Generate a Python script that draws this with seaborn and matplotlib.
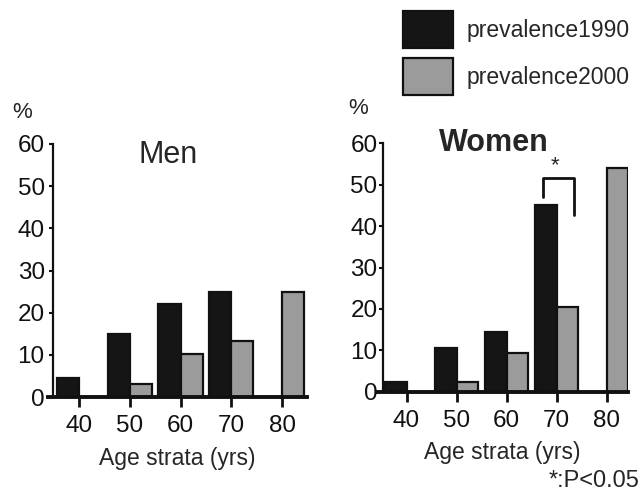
import numpy as np
import pandas as pd
import matplotlib
matplotlib.use('Agg')
import matplotlib.pyplot as plt
import seaborn as sns

ages = ['40', '50', '60', '70', '80']
men_1990 = [4.4, 15, 22, 25, 0]
men_2000 = [0, 3, 10.2, 13.3, 25]
women_1990 = [2.4, 10.5, 14.3, 45.1, 0]
women_2000 = [0, 2.3, 9.3, 20.5, 54.1]
series = ['prevalence1990', 'prevalence2000']
colors = {'prevalence1990': '#151515', 'prevalence2000': '#9b9b9b'}

sns.set_style('white')
plt.rcParams['font.family'] = ['Liberation Sans', 'DejaVu Sans']


def long_df(v1990, v2000):
    return pd.DataFrame({
        'age': ages * 2,
        'series': [series[0]] * 5 + [series[1]] * 5,
        'value': list(v1990) + list(v2000),
    })


def draw(ax, df, xlim, spine_x, legend=False):
    sns.barplot(data=df, x='age', y='value', hue='series', palette=colors,
                width=0.87, edgecolor='#111111', linewidth=1.6, ax=ax,
                legend=legend, saturation=1)
    ax.set_xlim(*xlim)
    ax.set_ylim(0, 60)
    ax.set_yticks([0, 10, 20, 30, 40, 50, 60])
    sns.despine(ax=ax)
    ax.spines['left'].set_position(('data', spine_x))
    ax.spines['left'].set_linewidth(1.6)
    ax.spines['bottom'].set_linewidth(2.8)
    ax.spines['left'].set_color('#111111')
    ax.spines['bottom'].set_color('#111111')
    ax.tick_params(axis='y', length=3, width=1.5, pad=3, labelsize=17.5,
                   left=True, colors='#111111')
    ax.tick_params(axis='x', length=7, width=2, pad=6, labelsize=17.5,
                   bottom=True, colors='#111111')
    ax.set_ylabel('')
    ax.set_xlabel('Age strata (yrs)', fontsize=16.5, labelpad=7)


fig = plt.figure(figsize=(6.44, 4.94), dpi=100)
W, H = 644, 494

ax1 = fig.add_axes([48 / W, (H - 397) / H, 259 / W, (397 - 144) / H])
draw(ax1, long_df(men_1990, men_2000), (-0.61, 4.49), -0.51)
ax1.text(1.75, 57.5, 'Men', fontsize=22, ha='center', va='center')
fig.text(22 / W, 1 - 112 / H, '%', fontsize=16, ha='center', va='center')

ax2 = fig.add_axes([377 / W, (H - 391.7) / H, 251 / W, (391.7 - 143.3) / H])
draw(ax2, long_df(women_1990, women_2000), (-0.59, 4.43), -0.47, legend=True)
ax2.tick_params(axis='y', pad=1)
ax2.text(1.75, 60, 'Women', fontsize=22, fontweight='bold', ha='center', va='center')
fig.text(358 / W, 1 - 108 / H, '%', fontsize=16, ha='center', va='center')

# significance bracket
ax2.plot([2.73, 2.73, 3.35, 3.35], [47, 51.6, 51.6, 42.7], color='#111111',
         lw=2, clip_on=False)
ax2.text(2.98, 54.5, '*', fontsize=16, ha='center', va='center')

handles, labels = ax2.get_legend_handles_labels()
ax2.get_legend().remove()
fig.legend(handles, labels, loc='upper left', bbox_to_anchor=(403 / W, 1 - 11 / H),
           frameon=False, fontsize=16.5, handlelength=2.18, handleheight=2.11,
           handletextpad=0.6, labelspacing=0.44, borderpad=0, borderaxespad=0)

fig.text(640 / W, 1 - 481 / H, '*:P<0.05', fontsize=17, ha='right', va='center')

fig.savefig('out.png', dpi=100)
